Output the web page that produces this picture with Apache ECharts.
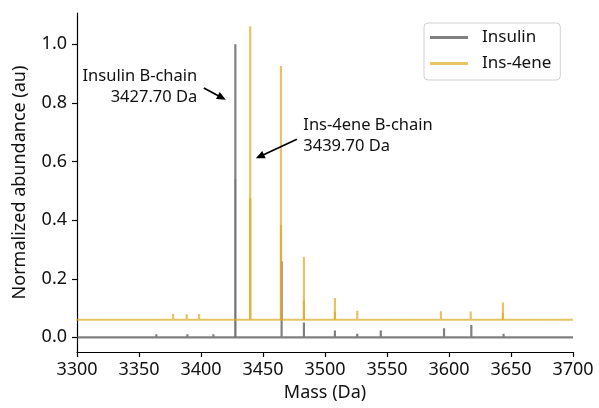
<!DOCTYPE html>
<html><head><meta charset="utf-8">
<script src="https://cdn.jsdelivr.net/npm/echarts@6/dist/echarts.min.js"></script>
<style>html,body{margin:0;padding:0;background:#fff}#c{width:599px;height:408px}</style>
</head><body><div id="c"></div>
<script>
// ---- data ----
const massMin = 3300, massMax = 3700, massTickStep = 50;
const yTickValues = [0.0, 0.2, 0.4, 0.6, 0.8, 1.0];
const seriesNames = ['Insulin', 'Ins-4ene'];

// Insulin (baseline 0)
const insulinBase = 0.0;
const insulinPeakMass   = [3364, 3389, 3410, 3427.7, 3465, 3483, 3508, 3526, 3545, 3596, 3618, 3644];
const insulinPeakHeight = [0.011, 0.011, 0.011, 1.0, 0.26, 0.051, 0.023, 0.012, 0.023, 0.031, 0.042, 0.012];
// overlapping lower traces (slightly darker parts of the peaks)
const insulinOverlapMass   = [3427.7];
const insulinOverlapHeight = [0.54];

// Ins-4ene (offset baseline 0.06)
const ins4eneBase = 0.06;
const ins4enePeakMass   = [3377.5, 3388.5, 3398.5, 3439.7, 3464.5, 3483, 3508, 3526, 3593.5, 3617.5, 3643.5];
const ins4enePeakHeight = [0.080, 0.079, 0.080, 1.062, 0.926, 0.274, 0.134, 0.091, 0.089, 0.088, 0.119];
const ins4eneOverlapMass   = [3439.7, 3464.5, 3483, 3508, 3643.5];
const ins4eneOverlapHeight = [0.475, 0.384, 0.125, 0.087, 0.083];

// annotations (data coordinates)
const annotations = [
  { text: 'Insulin B-chain\n3427.70 Da', textAt: [3397.0, 0.856], align: 'right', tail: [3402.3, 0.851], head: [3420.0, 0.811] },
  { text: 'Ins-4ene B-chain\n3439.70 Da', textAt: [3482.5, 0.688], align: 'left', tail: [3477.3, 0.676], head: [3444.2, 0.611] }
];

// ---- helpers ----
function spectrum(base, masses, heights) {
  const d = [[massMin, base]];
  masses.forEach((m, i) => { d.push([m, base], [m, heights[i]], [m, base]); });
  d.push([massMax, base]);
  return d;
}
function spikes(base, masses, heights) {
  const d = [];
  masses.forEach((m, i) => { d.push([m, base], [m, heights[i]], [m, '-']); });
  return d;
}

const GRAY = '#4a4a4a', YELLOW = '#dcaa22';
const FONT = '"Noto Sans", "Open Sans", sans-serif';

function lineSeries(name, data, color, opacity, z) {
  return {
    type: 'line', name: name, data: data, symbol: 'none', showSymbol: false,
    connectNulls: false, animation: false, z: z,
    lineStyle: { color: color, width: 2.2, opacity: opacity, join: 'bevel', cap: 'butt' },
    itemStyle: { color: color },
    emphasis: { disabled: true }
  };
}

const chart = echarts.init(document.getElementById('c'), null, { renderer: 'canvas' });
const option = {
  animation: false,
  backgroundColor: '#fff',
  grid: { left: 77, right: 26, top: 13, bottom: 56, containLabel: false },
  xAxis: {
    type: 'value', min: massMin, max: massMax, interval: massTickStep,
    name: 'Mass (Da)', nameLocation: 'middle', nameGap: 32,
    nameTextStyle: { fontSize: 18, fontFamily: FONT, color: '#111' },
    axisLine: { onZero: false, lineStyle: { color: '#000', width: 1.2 } },
    axisTick: { show: true, length: 5, lineStyle: { color: '#000', width: 1.2 } },
    axisLabel: { fontSize: 18, fontFamily: FONT, color: '#111', margin: 9, formatter: v => String(v) },
    splitLine: { show: false }
  },
  yAxis: {
    type: 'value', min: -0.05, max: 1.107,
    name: 'Normalized abundance (au)', nameLocation: 'middle', nameGap: 48, nameRotate: 90,
    nameTextStyle: { fontSize: 18, fontFamily: FONT, color: '#111' },
    axisLine: { show: true, lineStyle: { color: '#000', width: 1.2 } },
    axisTick: { show: true, length: 5, customValues: yTickValues, lineStyle: { color: '#000', width: 1.2 } },
    axisLabel: { fontSize: 18, fontFamily: FONT, color: '#111', margin: 10, customValues: yTickValues,
                 formatter: v => v.toFixed(1) },
    splitLine: { show: false }
  },
  legend: {
    orient: 'vertical', left: 424, top: 23,
    padding: [4, 9, 6, 6], itemGap: 5,
    itemWidth: 38, itemHeight: 3,
    backgroundColor: 'rgba(255,255,255,0.8)', borderColor: '#d0d0d0', borderWidth: 1, borderRadius: 4,
    textStyle: { fontSize: 17, fontFamily: FONT, color: '#111', lineHeight: 21, padding: [0, 0, 0, 9] },
    data: [
      { name: seriesNames[0], icon: 'rect', itemStyle: { color: '#808080', opacity: 1 } },
      { name: seriesNames[1], icon: 'rect', itemStyle: { color: '#e7c464', opacity: 1 } }
    ],
    selectedMode: false
  },
  series: [
    lineSeries(seriesNames[0], spectrum(insulinBase, insulinPeakMass, insulinPeakHeight), GRAY, 0.7, 2),
    lineSeries('Insulin overlap', spikes(insulinBase, insulinOverlapMass, insulinOverlapHeight), GRAY, 0.2, 3),
    lineSeries(seriesNames[1], spectrum(ins4eneBase, ins4enePeakMass, ins4enePeakHeight), YELLOW, 0.7, 4),
    lineSeries('Ins-4ene overlap', spikes(ins4eneBase, ins4eneOverlapMass, ins4eneOverlapHeight), YELLOW, 0.7, 5)
  ]
};
chart.setOption(option);

// annotations positioned from data coordinates
const graphics = [];
annotations.forEach(a => {
  const tp = chart.convertToPixel({ gridIndex: 0 }, a.textAt);
  const t = chart.convertToPixel({ gridIndex: 0 }, a.tail);
  const h = chart.convertToPixel({ gridIndex: 0 }, a.head);
  graphics.push({
    type: 'text', z: 100,
    style: { text: a.text, x: tp[0], y: tp[1], align: a.align, verticalAlign: 'middle',
             fontSize: 16.5, fontFamily: FONT, lineHeight: 21, fill: '#111' }
  });
  const dx = h[0] - t[0], dy = h[1] - t[1], L = Math.hypot(dx, dy);
  const ux = dx / L, uy = dy / L, hl = 9, hw = 4;
  const bx = h[0] - ux * hl, by = h[1] - uy * hl;
  graphics.push({
    type: 'line', z: 100,
    shape: { x1: t[0], y1: t[1], x2: bx + ux * 1, y2: by + uy * 1 },
    style: { stroke: '#000', lineWidth: 1.8 }
  });
  graphics.push({
    type: 'polygon', z: 100,
    shape: { points: [[h[0], h[1]], [bx - uy * hw, by + ux * hw], [bx + uy * hw, by - ux * hw]] },
    style: { fill: '#000' }
  });
});
chart.setOption({ graphic: graphics });
</script>
</body></html>
